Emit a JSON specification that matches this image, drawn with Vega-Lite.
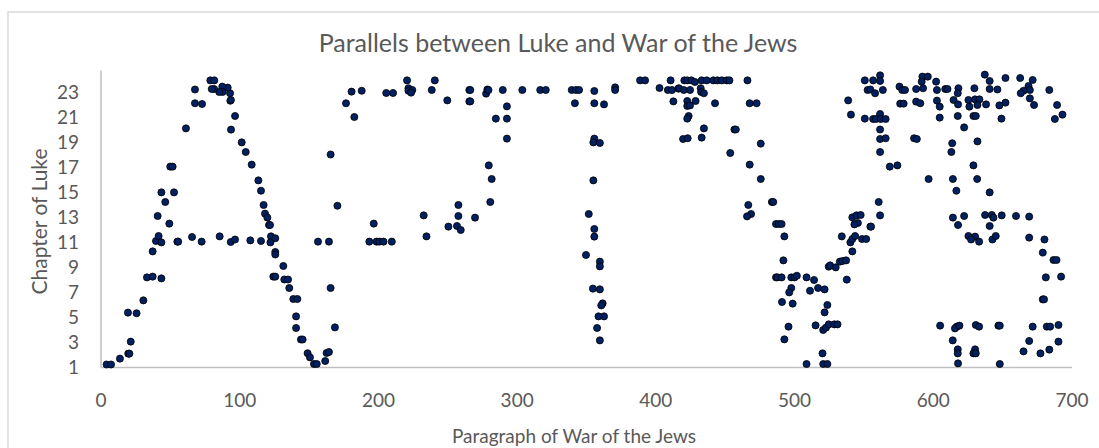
{"$schema":"https://vega.github.io/schema/vega-lite/v6.json","width":971,"height":297,"autosize":{"type":"none"},"padding":{"left":100.5,"top":70,"right":27.5,"bottom":81},"background":"white","title":{"text":"Parallels between Luke and War of the Jews","font":"Lato","fontSize":25,"fontWeight":"normal","color":"#595959","anchor":"middle","frame":"group","dx":-28,"offset":-46},"config":{"view":{"stroke":null}},"layer":[{"data":{"values":[{"a":-66.7,"b":800,"c":-20,"d":29.4}]},"mark":{"type":"rect","fill":null,"stroke":"#d9d9d9","strokeWidth":1.5,"clip":false},"encoding":{"x":{"field":"a","type":"quantitative","scale":{"domain":[0,700],"nice":false},"axis":{"title":"Paragraph of War of the Jews","values":[0,100,200,300,400,500,600,700],"grid":false,"ticks":false,"domainColor":"#bfbfbf","domainWidth":1.5,"labelFont":"Lato","labelFontSize":19,"labelColor":"#595959","labelPadding":24,"labelFlush":false,"labelOverlap":false,"titleFont":"Lato","titleFontSize":19,"titleFontWeight":"normal","titleColor":"#595959","titleX":473,"titleY":69,"titleBaseline":"middle"}},"x2":{"field":"b"},"y":{"field":"c","type":"quantitative","scale":{"domain":[1,24.76],"nice":false,"zero":false},"axis":{"title":"Chapter of Luke","values":[1,3,5,7,9,11,13,15,17,19,21,23],"grid":false,"ticks":false,"domainColor":"#bfbfbf","domainWidth":1.5,"labelFont":"Lato","labelFontSize":19,"labelColor":"#595959","labelPadding":22,"labelOverlap":false,"labelBound":false,"labelFlush":false,"titleFont":"Lato","titleFontSize":21,"titleFontWeight":"normal","titleColor":"#595959","titleX":-60.5,"titleY":151,"titleBaseline":"middle"}},"y2":{"field":"d"}}},{"data":{"values":[[4.4,1.2],[7.6,1.2],[14,1.67],[20,2.07],[20.8,2.07],[21.8,3.03],[19.8,5.35],[26,5.3],[30.9,6.33],[33.5,8.17],[37.6,8.23],[43.9,8.09],[37.6,10.25],[40,11.08],[41.9,11.48],[43.9,10.97],[41.2,13.08],[49.6,12.47],[46.7,14.2],[43.9,14.97],[53,14.97],[50.3,17.03],[52,17.03],[55.4,11.03],[56,11.03],[66,11.4],[72.9,11.03],[85.9,11.45],[93.9,11],[97,11.2],[108,11.13],[115.7,11.08],[122.5,10.97],[122.9,11.45],[126,11.3],[126,10.2],[126,10],[124.6,8.23],[126,8.23],[131.8,9.08],[132.5,8],[135.2,8],[136.1,7.32],[139,6.44],[141.9,6.44],[141,5.05],[141,4.12],[144.5,3.2],[145.7,3.2],[149.3,2.1],[151,1.77],[153.9,1.24],[155.9,1.24],[162,1.48],[163,2.12],[164.7,2.2],[169,4.17],[165.9,7.32],[156.8,11.03],[164.7,11.03],[170.8,13.9],[165.9,18],[197,12.47],[193.8,11.03],[199,11.03],[201,11.03],[204,11.03],[210,11.03],[117.6,13.96],[115.7,15.1],[113.8,15.93],[109,17.19],[104.7,18.2],[101.8,18.97],[94.1,19.99],[97,21.08],[93.6,22.3],[94,22.36],[93.4,22.9],[91.7,23.35],[87.8,23.43],[88,23],[85.6,23],[81.9,23.24],[80.2,23.24],[79.2,23.93],[82,23.93],[68.1,23.2],[68.1,22.1],[73.2,22.04],[61.6,20.09],[118.6,13.27],[120.3,12.95],[121.5,12.36],[122.2,12.36],[177,22.1],[181,23.03],[188.3,23.1],[183,21],[206,22.92],[210.9,22.92],[221,23.93],[222,23.3],[222,23.1],[224.8,23.16],[223.9,22.95],[238.8,23.16],[241,23.93],[250,22.33],[265.9,23.16],[266.6,23.16],[265.9,22.25],[266.6,22.25],[278,22.87],[278.9,23.2],[279.7,23.16],[290,23.16],[293,21.85],[285,20.87],[293,20.87],[293,19.27],[304.1,23.16],[317,23.16],[321,23.16],[339.7,23.16],[342.8,23.16],[345,23.16],[342,22.1],[356,23.08],[356,22.1],[363,22.01],[371,23.37],[371,23.16],[389,23.93],[392.6,23.93],[403,23.32],[409,23.16],[411,23.93],[412,23.16],[416.6,23.27],[413,22.25],[356,19.27],[355.3,18.97],[360,18.92],[355.3,15.93],[352,13.24],[356,12.04],[356,11.43],[350,9.96],[360,9.43],[360,9.05],[355,7.27],[360,7.21],[362,6.09],[361,5.93],[363,5.05],[359,5.05],[358,4.12],[360,3.13],[279.9,17.13],[282,16.04],[281,14.2],[258,13.96],[258,13.08],[270,12.95],[233,13.13],[235,11.45],[250.8,12.23],[257,12.28],[259.7,11.96],[420.9,23.93],[423,23.93],[426,23.93],[428.6,23.8],[433.4,23.93],[437,23.93],[441.8,23.93],[444.7,23.93],[447.9,23.93],[451.5,23.93],[453.4,23.93],[466.4,23.93],[417,23.3],[420.5,23.16],[425,23.16],[432.7,23.3],[433,23],[435,22.9],[423,22.28],[429,22.28],[423,21.88],[425,21.93],[443,22.1],[468,22.1],[473,22.1],[424,21.08],[423,20.87],[435,20.09],[420,19.24],[423.3,19.3],[433.4,19.35],[457,20],[458,20],[476,18.87],[454,18.12],[468,17.19],[476,16.04],[484,14.2],[485,14.2],[467,13.96],[469,13.24],[466.1,13.05],[487,12.44],[489,12.44],[491,12.44],[493,11.45],[492.3,9.53],[487,8.17],[488,8.17],[491,8.17],[498,8.17],[500.3,8.17],[502,8.3],[509,8.17],[514.4,7.96],[517.3,7.32],[522,7.21],[511.5,7.1],[498,7.32],[496.5,6.97],[491.3,6.2],[499,6.07],[524,5.96],[522,5.37],[515.5,4.33],[521,3.96],[523,4.15],[525,4.41],[529,4.41],[531.3,4.41],[496,4.23],[493,3.21],[520.5,2.09],[509,1.24],[521,1.24],[524,1.24],[538,7.99],[525,9.03],[526,9.13],[530,8.97],[533,9.43],[535,9.48],[537.5,9.53],[542,10.25],[534.4,11.45],[540.6,10.97],[542,11.24],[544,11.48],[549,11.24],[552,11.24],[555,12.23],[546,12.52],[543.5,12.41],[542,12.97],[545,13.13],[548,13.16],[539,22.33],[541,21.19],[551,20.87],[551,23.93],[553,23.16],[557,23.93],[562,24.33],[562,23.88],[555,23.2],[558.4,22.9],[564,23.16],[557,20.84],[559,20.84],[562,21.24],[562.5,20.84],[566,20.84],[562,20],[562,19.24],[566,19.3],[562,18.2],[569,17.03],[574.5,17.13],[561,14.2],[562,13.13],[555.5,12.23],[576,23.43],[578,23.16],[580,23.16],[576.5,22.07],[579,22.07],[588,23.24],[593,23.3],[592.5,24.23],[592,23.83],[596.4,24.23],[588,22.23],[591,22.1],[602.4,23.83],[603,23.16],[609,23.24],[610.6,23.24],[603,22.31],[605,21.83],[605,20.95],[586.5,19.3],[588.5,19.24],[597,16.04],[618.5,23.3],[618,22.9],[615,22.36],[618.2,22.01],[618,21.08],[622.6,20.17],[614,18.9],[613.4,18.2],[614.5,16.04],[617,15.1],[629.3,17.13],[632,16.04],[632.2,19.05],[630,23.3],[625.7,22.36],[626.4,21.83],[630.5,22.41],[633.6,22.41],[632.2,21.96],[629.3,21.08],[631,21.08],[638.4,22.01],[637.5,24.39],[641,23.88],[641,23.24],[646.6,23.2],[652.4,24.12],[648,21.93],[652.4,22.15],[649.5,20.87],[663,24.12],[672,23.96],[669,23.48],[670,23.16],[665.4,23.1],[663.4,22.9],[670,22.49],[673,21.96],[684,23.16],[689.6,21.96],[688,20.84],[693.5,21.19],[641,14.97],[614.5,12.95],[622.6,13.08],[618.2,12.36],[637.7,13.16],[642.5,13.16],[643.7,12.95],[649.7,13.13],[660,13.08],[669.5,13.03],[641,12.28],[625.7,11.48],[630.5,11.43],[627.6,11.2],[633.4,11.03],[643,11.2],[645.4,11.48],[669.5,11.35],[680.5,11.2],[679.3,10.15],[687,9.56],[689.2,9.56],[681.5,8.17],[692.5,8.23],[679.3,6.41],[680.2,6.41],[605.3,4.31],[617.3,4.23],[616,4.09],[619.2,4.31],[631,4.36],[633.4,4.23],[647.3,4.31],[648.3,4.31],[672,4.23],[682.2,4.23],[684.6,4.23],[690.6,4.36],[614.4,3.13],[669.5,3.08],[690.6,3.03],[618,2.41],[618,2.09],[630.5,2.41],[629.3,2.09],[631,2.09],[665.4,2.25],[677.6,2.09],[684,2.39],[618.2,1.29],[648.3,1.24]]},"mark":{"type":"point","filled":true,"fill":"#002060","stroke":"#000000","strokeWidth":0.8,"size":50,"opacity":1,"clip":false},"encoding":{"x":{"field":"0","type":"quantitative","axis":{"title":"Paragraph of War of the Jews","values":[0,100,200,300,400,500,600,700],"grid":false,"ticks":false,"domainColor":"#bfbfbf","domainWidth":1.5,"labelFont":"Lato","labelFontSize":19,"labelColor":"#595959","labelPadding":24,"labelFlush":false,"labelOverlap":false,"titleFont":"Lato","titleFontSize":19,"titleFontWeight":"normal","titleColor":"#595959","titleX":473,"titleY":69,"titleBaseline":"middle"}},"y":{"field":"1","type":"quantitative","axis":{"title":"Chapter of Luke","values":[1,3,5,7,9,11,13,15,17,19,21,23],"grid":false,"ticks":false,"domainColor":"#bfbfbf","domainWidth":1.5,"labelFont":"Lato","labelFontSize":19,"labelColor":"#595959","labelPadding":22,"labelOverlap":false,"labelBound":false,"labelFlush":false,"titleFont":"Lato","titleFontSize":21,"titleFontWeight":"normal","titleColor":"#595959","titleX":-60.5,"titleY":151,"titleBaseline":"middle"}}}}]}
